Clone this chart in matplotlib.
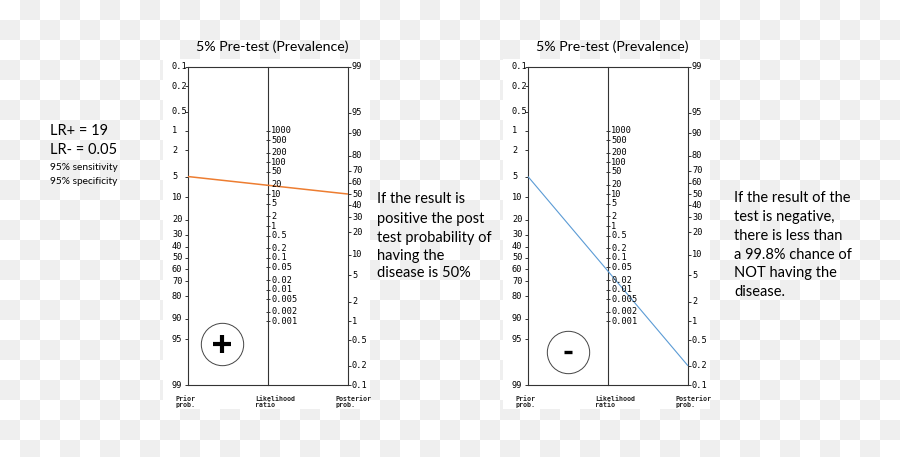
"""
Fagan nomogram pair: 5% pre-test probability with LR+ = 19 and LR- = 0.05.
"""
import numpy as np
import matplotlib
matplotlib.use("Agg")
import matplotlib.pyplot as plt

# --- data ---
prior_ticks = [0.1, 0.2, 0.5, 1, 2, 5, 10, 20, 30, 40, 50, 60, 70, 80, 90, 95, 99]
post_ticks = [99, 95, 90, 80, 70, 60, 50, 40, 30, 20, 10, 5, 2, 1, 0.5, 0.2, 0.1]
lr_ticks = [1000, 500, 200, 100, 50, 20, 10, 5, 2, 1,
            0.5, 0.2, 0.1, 0.05, 0.02, 0.01, 0.005, 0.002, 0.001]
prior_prob = [5, 5]            # % pre-test (prevalence), both panels
post_prob = [50, 0.2]          # % post-test, positive / negative result
line_colors = ["#ED7D31", "#5B9BD5"]
line_widths = [1.1, 0.8]
sign_markers = ["+", "_"]

title = "5% Pre-test (Prevalence)"
left_notes = ["LR+ = 19", "LR- = 0.05", "95% sensitivity", "95% specificity"]
pos_note = ["If the result is", "positive the post", "test probability of",
            "having the", "disease is 50%"]
neg_note = ["If the result of the", "test is negative,", "there is less than",
            "a 99.8% chance of", "NOT having the", "disease."]

TEXT_FONT = ["Lato", "DejaVu Sans"]
MONO = "DejaVu Sans Mono"
AXC = "#333333"


def logit(p):
    p = np.asarray(p, dtype=float) / 100.0
    return np.log(p / (1 - p))


C = float(logit(0.1) + logit(99))          # shift so right 99 sits level with left 0.1


def v_prior(p):
    return logit(p)


def v_post(p):
    return -logit(p) + C


def v_lr(lr):
    return (C - np.log(np.asarray(lr, dtype=float))) / 2


W, H = 900, 457
fig = plt.figure(figsize=(W / 100, H / 100), dpi=100)

# checkerboard (transparent-png look)
bg = fig.add_axes([0, 0, 1, 1])
nx, ny = int(np.ceil(W / 20)), int(np.ceil(H / 20))
ii, jj = np.meshgrid(np.arange(nx), np.arange(ny))
board = (ii + jj) % 2
bg.imshow(board, cmap=matplotlib.colors.ListedColormap(["white", "#efefef"]),
          extent=[0, nx * 20, ny * 20, 0], interpolation="nearest", aspect="auto")
bg.set_xlim(0, W)
bg.set_ylim(H, 0)
bg.axis("off")

PX_X = 80.0      # px per x unit
PX_V = 27.65     # px per logit unit
top_v = float(v_prior(0.1))
bot_v = float(v_prior(99))
TICK_FS = 6.2


def nomogram(left_px, k):
    ax = fig.add_axes([left_px / W, (H - 409) / H, 207 / W, 350 / H])
    ax.set_facecolor("white")
    ax.set_xlim(-25 / PX_X, 182 / PX_X)
    ax.set_ylim(bot_v + 24 / PX_V, top_v - 8 / PX_V)
    for s in ax.spines.values():
        s.set_visible(False)
    ax.set_xticks([])
    ax.set_yticks([])

    # frame + middle axis
    for x in (0, 1, 2):
        ax.plot([x, x], [top_v, bot_v], color=AXC, lw=0.8)
    ax.plot([0, 2], [top_v, top_v], color=AXC, lw=0.8)
    ax.plot([0, 2], [bot_v, bot_v], color=AXC, lw=0.8)

    t = 3 / PX_X
    vp = v_prior(prior_ticks)
    ax.hlines(vp, -t, 0, color=AXC, lw=0.7)
    for p, v in zip(prior_ticks, vp):
        ax.text(-0.2, v, f"{p:g}", fontsize=TICK_FS, family=MONO, va="center", ha="left")
    vq = v_post(post_ticks)
    ax.hlines(vq, 2, 2 + t, color=AXC, lw=0.7)
    for p, v in zip(post_ticks, vq):
        ax.text(2.05, v, f"{p:g}", fontsize=TICK_FS, family=MONO, va="center", ha="left")
    vl = v_lr(lr_ticks)
    ax.hlines(vl, 1 - t / 1.5, 1 + t / 1.5, color=AXC, lw=0.7)
    for lr, v in zip(lr_ticks, vl):
        ax.text(1.04, v, f"{lr:g}", fontsize=TICK_FS, family=MONO, va="center", ha="left")

    lab_v = bot_v + 11 / PX_V
    for x, s in [(-0.16, "Prior\nprob."), (0.84, "Likelihood\nratio"), (1.84, "Posterior\nprob.")]:
        ax.text(x, lab_v, s, fontsize=4.8, family=MONO, va="top", ha="left",
                linespacing=0.95, fontweight="bold", color="#222222")

    # the patient line
    ax.plot([0, 2], [v_prior(prior_prob[k]), v_post(post_prob[k])],
            color=line_colors[k], lw=line_widths[k], solid_capstyle="butt")

    # result badge
    cx, cv = [(0.425, 3.11), (0.5, 3.40)][k]
    ax.plot(cx, cv, "o", ms=30.5, mfc="white", mec="#444444", mew=0.7)
    ax.plot(cx, cv, marker=sign_markers[k], ms=[12.5, 6][k], mew=[3.0, 2.4][k],
            color="black", linestyle="none")
    return ax


nomogram(163, 0)
nomogram(503, 1)

fig.text(272 / W, 1 - 47 / H, title, fontsize=10.2, family=TEXT_FONT, ha="center", va="center")
fig.text(612 / W, 1 - 47 / H, title, fontsize=10.2, family=TEXT_FONT, ha="center", va="center")

for s, y, fs in zip(left_notes, [131, 150, 167, 181], [10.5, 10.5, 7.3, 7.3]):
    fig.text(50 / W, 1 - y / H, s, fontsize=fs, family=TEXT_FONT, ha="left", va="center")
for s, y in zip(pos_note, [199, 219, 238, 256, 273]):
    fig.text(377 / W, 1 - y / H, s, fontsize=10.5, family=TEXT_FONT, ha="left", va="center")
for s, y in zip(neg_note, [198, 217, 236, 255, 273, 292]):
    fig.text(734 / W, 1 - y / H, s, fontsize=10.5, family=TEXT_FONT, ha="left", va="center")

fig.savefig("out.png", dpi=100)
